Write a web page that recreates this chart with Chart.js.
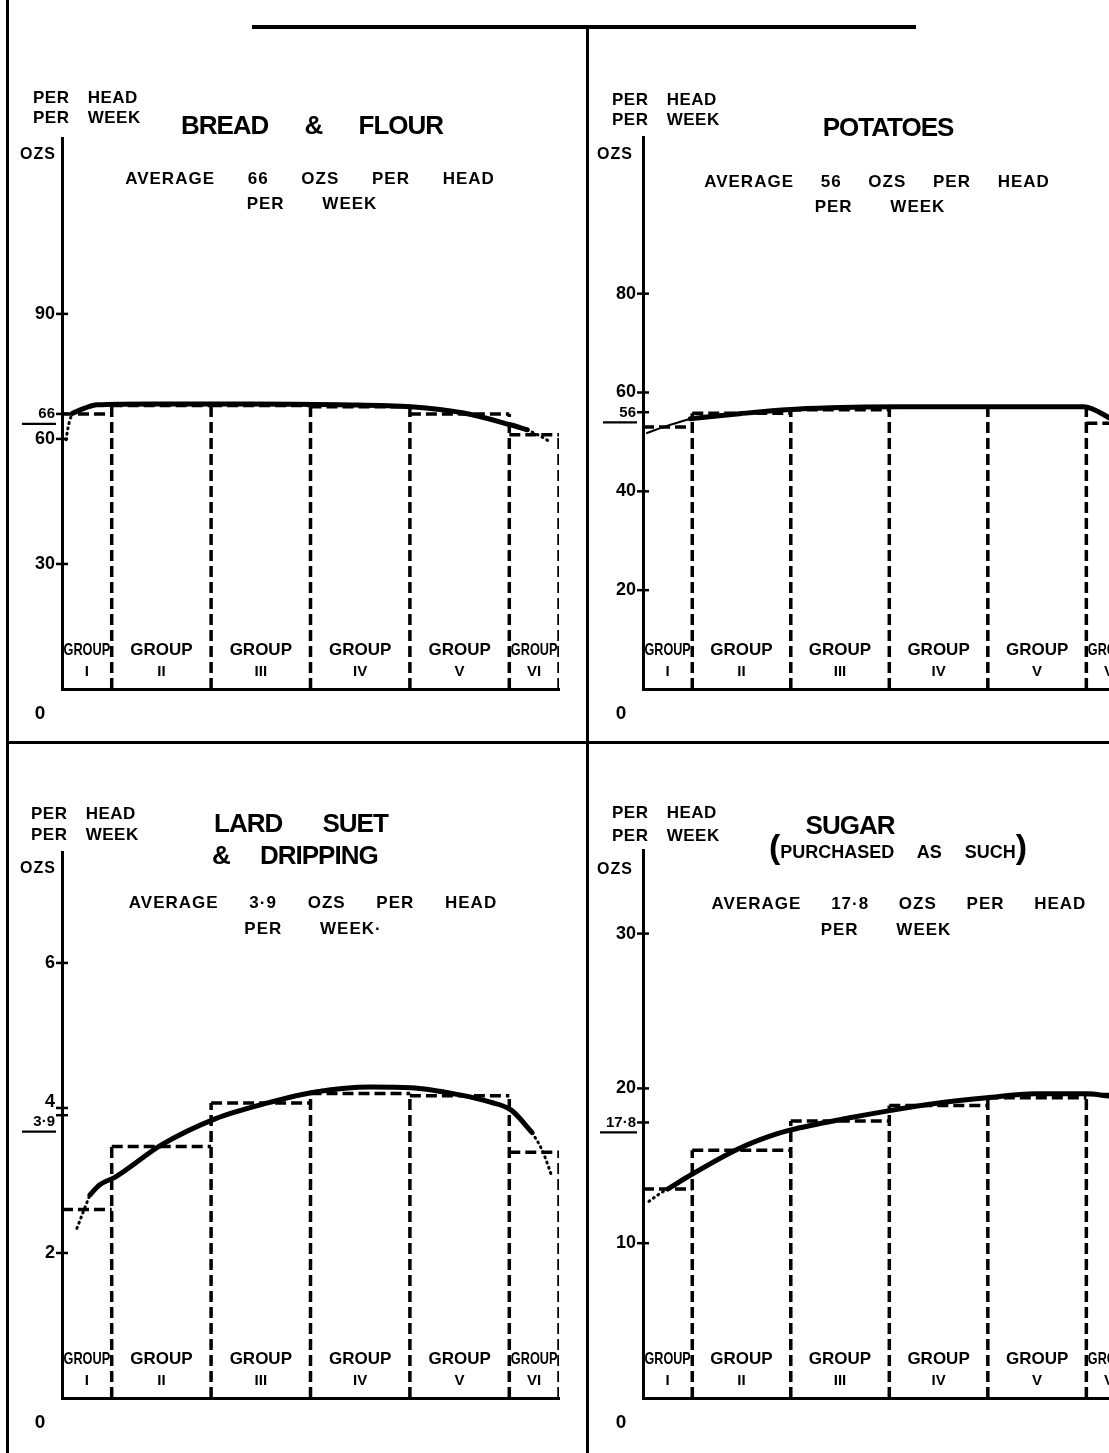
<!DOCTYPE html>
<html><head><meta charset="utf-8">
<script src="https://cdn.jsdelivr.net/npm/chart.js@4"></script>
<style>
html,body{margin:0;padding:0;background:#fff;}
#page{position:relative;width:1109px;height:1453px;overflow:hidden;background:#fff;font-family:'Liberation Sans',Arial,sans-serif;font-weight:bold;color:#000;}
.ln{position:absolute;background:#000;}
canvas{position:absolute;}
.t{position:absolute;white-space:pre;line-height:1;z-index:2;}
.s17{font-size:17px;letter-spacing:0.5px;word-spacing:13px;}
.ttl{font-size:26px;letter-spacing:-1px;}
.ozs{font-size:16px;letter-spacing:1px;}
.avg{font-size:17px;letter-spacing:1px;width:600px;text-align:center;}
.ctr{width:600px;text-align:center;}
</style></head><body><div id="page">
<div class="ln" style="left:6px;top:0;width:3px;height:1453px"></div>
<div class="ln" style="left:252px;top:25px;width:664px;height:4px"></div>
<div class="ln" style="left:586px;top:27px;width:3px;height:1426px"></div>
<div class="ln" style="left:8px;top:741px;width:1101px;height:3px"></div>

<canvas id="c1" width="570" height="710" style="left:10px;top:30px"></canvas>
<canvas id="c2" width="519" height="710" style="left:590px;top:30px"></canvas>
<canvas id="c3" width="570" height="707" style="left:10px;top:746px"></canvas>
<canvas id="c4" width="519" height="707" style="left:590px;top:746px"></canvas>

<!-- panel 1 -->
<div class="t s17" style="left:33px;top:89px">PER HEAD</div>
<div class="t s17" style="left:33px;top:109px">PER WEEK</div>
<div class="t ttl ctr" style="left:12px;top:112px;word-spacing:30px">BREAD &amp; FLOUR</div>
<div class="t ozs" style="left:20px;top:146px">OZS</div>
<div class="t avg" id="a1" style="left:10px;top:170px;word-spacing:27px"></div>
<div class="t avg" style="left:12px;top:195px;word-spacing:32px">PER WEEK</div>

<!-- panel 2 -->
<div class="t s17" style="left:612px;top:91px">PER HEAD</div>
<div class="t s17" style="left:612px;top:111px">PER WEEK</div>
<div class="t ttl ctr" style="left:588px;top:114px">POTATOES</div>
<div class="t ozs" style="left:597px;top:146px">OZS</div>
<div class="t avg" id="a2" style="left:577px;top:173px;word-spacing:21px"></div>
<div class="t avg" style="left:580px;top:198px;word-spacing:32px">PER WEEK</div>

<!-- panel 3 -->
<div class="t s17" style="left:31px;top:805px">PER HEAD</div>
<div class="t s17" style="left:31px;top:826px">PER WEEK</div>
<div class="t ttl" style="left:214px;top:810px;word-spacing:34px">LARD SUET</div>
<div class="t ttl" style="left:212px;top:842px;word-spacing:24px">&amp; DRIPPING</div>
<div class="t ozs" style="left:20px;top:860px">OZS</div>
<div class="t avg" id="a3" style="left:13px;top:894px;word-spacing:25px"></div>
<div class="t avg" style="left:13px;top:920px;word-spacing:32px">PER WEEK·</div>

<!-- panel 4 -->
<div class="t s17" style="left:612px;top:804px">PER HEAD</div>
<div class="t s17" style="left:612px;top:827px">PER WEEK</div>
<div class="t ttl ctr" style="left:550px;top:812px">SUGAR</div>
<div class="t" style="left:769px;top:829px;font-size:18px;word-spacing:18px"><span style="font-size:34px">(</span>PURCHASED AS SUCH<span style="font-size:34px">)</span></div>
<div class="t ozs" style="left:597px;top:861px">OZS</div>
<div class="t avg" id="a4" style="left:599px;top:895px;word-spacing:24px"></div>
<div class="t avg" style="left:586px;top:921px;word-spacing:32px">PER WEEK</div>
</div>

<script>
// ---------- data ----------
const groups = ['I', 'II', 'III', 'IV', 'V', 'VI'];
const groupEdges = [0, 0.5, 1.5, 2.5, 3.5, 4.5, 5];

// Bread & flour (ozs per head per week)
const breadAverage = 66;
const breadValues = [66, 68, 68, 67.7, 66, 61];
const breadTicks = [0, 30, 60, 66, 90];
const breadAxisMax = 132.2;
const breadCurve = [[0.11, 66.2], [0.23, 67.4], [0.35, 68.2], [0.89, 68.4], [1.89, 68.4], [2.79, 68.2], [3.51, 67.7], [4.04, 66.2], [4.51, 63.4], [4.68, 62.2]];
const breadTrendIn = [[0.04, 59.8], [0.06, 62.6], [0.08, 64.6], [0.11, 66.2]];
const breadTrendOut = [[4.68, 62.2], [4.81, 60.7], [4.91, 59.3]];

// Potatoes
const potatoAverage = 56;
const potatoValues = [53, 55.8, 56.5, 57, 57, 53.8];
const potatoTicks = [0, 20, 40, 56, 60, 80];
const potatoAxisMax = 111.7;
const potatoCurve = [[0.48, 54.7], [0.98, 55.7], [1.45, 56.5], [1.9, 56.9], [2.61, 57.1], [3.62, 57.1], [4.47, 57.1], [4.56, 56.7], [4.64, 55.9], [4.73, 54.9]];
const potatoTrendIn = [[0.04, 51.8], [0.25, 53.3], [0.48, 54.7]];
const potatoTrendOut = [];

// Lard, suet & dripping
const lardAverage = 3.9;
const lardValues = [2.6, 3.47, 4.07, 4.2, 4.17, 3.39];
const lardTicks = [0, 2, 3.9, 4, 6];
const lardAxisMax = 7.53;
const lardCurve = [[0.28, 2.8], [0.38, 2.94], [0.54, 3.05], [1.0, 3.49], [1.54, 3.85], [2.07, 4.07], [2.55, 4.22], [3.1, 4.29], [3.51, 4.28], [4.0, 4.18], [4.31, 4.08], [4.52, 3.97], [4.73, 3.66]];
const lardTrendIn = [[0.15, 2.34], [0.22, 2.59], [0.28, 2.8]];
const lardTrendOut = [[4.73, 3.66], [4.83, 3.42], [4.93, 3.05]];

// Sugar (purchased as such)
const sugarAverage = 17.8;
const sugarValues = [13.5, 16, 17.9, 18.9, 19.4, 19.6];
const sugarTicks = [0, 10, 17.8, 20, 30];
const sugarAxisMax = 35.4;
const sugarCurve = [[0.25, 13.5], [0.51, 14.5], [0.97, 16.1], [1.28, 16.9], [1.49, 17.3], [2.1, 18.1], [2.49, 18.55], [3.02, 19.07], [3.49, 19.4], [3.98, 19.65], [4.51, 19.65], [4.73, 19.5]];
const sugarTrendIn = [[0.06, 12.7], [0.17, 13.2], [0.25, 13.5]];
const sugarTrendOut = [];

// ---------- helpers ----------
const FONT = '"Liberation Sans", Arial, sans-serif';
const fmt = v => String(v).replace('.', '·');

function outline(values) {
  const pts = [];
  for (let j = 0; j < groupEdges.length; j++) {
    const a = j > 0 ? values[j - 1] : 0;
    const b = j < values.length ? values[j] : 0;
    pts.push({x: groupEdges[j], y: 0}, {x: groupEdges[j], y: Math.max(a, b)}, {x: groupEdges[j], y: null});
  }
  values.forEach((v, i) => {
    pts.push({x: groupEdges[i], y: v}, {x: groupEdges[i + 1], y: v}, {x: groupEdges[i + 1], y: null});
  });
  return pts;
}
const toPts = arr => arr.map(p => ({x: p[0], y: p[1]}));

const annot = {
  id: 'annot',
  afterDraw(chart, args, o) {
    const ctx = chart.ctx, ys = chart.scales.y, xs = chart.scales.x, ca = chart.chartArea;
    const ax = ca.left, base = ca.bottom;
    ctx.save();
    ctx.fillStyle = '#000'; ctx.strokeStyle = '#000';
    const vals = ys.ticks.map(t => t.value);
    ys.ticks.forEach(t => {
      const v = t.value, py = ys.getPixelForValue(v);
      if (v === 0) {
        ctx.font = 'bold 19px ' + FONT; ctx.textAlign = 'center'; ctx.textBaseline = 'middle';
        ctx.fillText('0', ax - 22, base + 25);
        return;
      }
      ctx.lineWidth = 2.5;
      ctx.beginPath(); ctx.moveTo(ax - 6, py); ctx.lineTo(ax + 6, py); ctx.stroke();
      let ly = py;
      vals.forEach(w => {
        if (w === v || w === 0) return;
        const d = py - ys.getPixelForValue(w);
        if (Math.abs(d) < 20) ly += (d > 0 ? 1 : -1) * (20 - Math.abs(d)) / 2;
      });
      const isAvg = v === o.average;
      ctx.font = (isAvg ? 'bold 15px ' : 'bold 18px ') + FONT;
      ctx.textAlign = 'right'; ctx.textBaseline = 'middle';
      const label = fmt(v);
      ctx.fillText(label, ax - 7, ly);
      if (isAvg) {
        const w = ctx.measureText(label).width;
        const x0 = Math.min(ax - 13 - w, ax - 40);
        ctx.lineWidth = 2.2;
        ctx.beginPath(); ctx.moveTo(x0, ly + 10); ctx.lineTo(ax - 6, ly + 10); ctx.stroke();
      }
    });
    // group labels
    ctx.save();
    ctx.beginPath(); ctx.rect(ca.left, ca.top, ca.right - ca.left + 2, ca.bottom - ca.top); ctx.clip();
    ctx.textAlign = 'center'; ctx.textBaseline = 'alphabetic';
    groups.forEach((g, i) => {
      const x0 = xs.getPixelForValue(groupEdges[i]), x1 = xs.getPixelForValue(groupEdges[i + 1]);
      const cx = (x0 + x1) / 2, w = x1 - x0 - 3;
      ctx.font = 'bold 17px ' + FONT;
      ctx.fillText('GROUP', cx, base - 34, w);
      ctx.font = 'bold 15px ' + FONT;
      ctx.fillText(g, cx, base - 13, w);
    });
    ctx.restore();
    ctx.restore();
  }
};

function makeChart(id, cfg) {
  new Chart(document.getElementById(id), {
    type: 'line',
    data: {
      datasets: [
        {data: outline(cfg.values), borderColor: '#000', borderWidth: 3.5, borderDash: [11, 5], pointRadius: 0, spanGaps: false, tension: 0},
        {data: toPts(cfg.curve), borderColor: '#000', borderWidth: 5, pointRadius: 0, cubicInterpolationMode: 'monotone', borderCapStyle: 'round'},
        {data: toPts(cfg.tin), borderColor: '#000', borderWidth: cfg.inSolid ? 2 : 3, borderDash: cfg.inSolid ? [] : [1, 4.5], borderCapStyle: 'round', pointRadius: 0, cubicInterpolationMode: 'monotone'},
        {data: toPts(cfg.tout), borderColor: '#000', borderWidth: 3, borderDash: [1, 4.5], borderCapStyle: 'round', pointRadius: 0, cubicInterpolationMode: 'monotone'}
      ]
    },
    options: {
      responsive: false, animation: false, devicePixelRatio: 1,
      layout: {padding: cfg.pad},
      plugins: {legend: {display: false}, tooltip: {enabled: false}, title: {display: false}, annot: {average: cfg.average}},
      scales: {
        x: {type: 'linear', min: 0, max: cfg.xMax, grid: {display: false, drawTicks: false}, border: {display: true, width: 3, color: '#000'}, ticks: {display: false}, afterFit: s => { s.height = 0; }},
        y: {type: 'linear', min: 0, max: cfg.yMax, grid: {display: false, drawTicks: false}, border: {display: true, width: 3, color: '#000'}, ticks: {display: false},
            afterBuildTicks: s => { s.ticks = cfg.ticks.map(v => ({value: v})); }, afterFit: s => { s.width = 0; }}
      }
    },
    plugins: [annot]
  });
}

const avgText = v => 'AVERAGE ' + fmt(v) + ' OZS PER HEAD';
document.getElementById('a1').textContent = avgText(breadAverage);
document.getElementById('a2').textContent = avgText(potatoAverage);
document.getElementById('a3').textContent = avgText(lardAverage);
document.getElementById('a4').textContent = avgText(sugarAverage);

makeChart('c1', {values: breadValues, ticks: breadTicks, average: breadAverage, curve: breadCurve, tin: breadTrendIn, tout: breadTrendOut, yMax: breadAxisMax, xMax: 5, pad: {left: 52, right: 21, top: 108, bottom: 51}});
makeChart('c2', {values: potatoValues, ticks: potatoTicks, average: potatoAverage, curve: potatoCurve, tin: potatoTrendIn, tout: potatoTrendOut, inSolid: true, yMax: potatoAxisMax, xMax: 4.73, pad: {left: 53, right: 0, top: 107, bottom: 51}});
makeChart('c3', {values: lardValues, ticks: lardTicks, average: lardAverage, curve: lardCurve, tin: lardTrendIn, tout: lardTrendOut, yMax: lardAxisMax, xMax: 5, pad: {left: 52, right: 21, top: 106, bottom: 55}});
makeChart('c4', {values: sugarValues, ticks: sugarTicks, average: sugarAverage, curve: sugarCurve, tin: sugarTrendIn, tout: sugarTrendOut, yMax: sugarAxisMax, xMax: 4.73, pad: {left: 53, right: 0, top: 104, bottom: 55}});
</script>
</body></html>
